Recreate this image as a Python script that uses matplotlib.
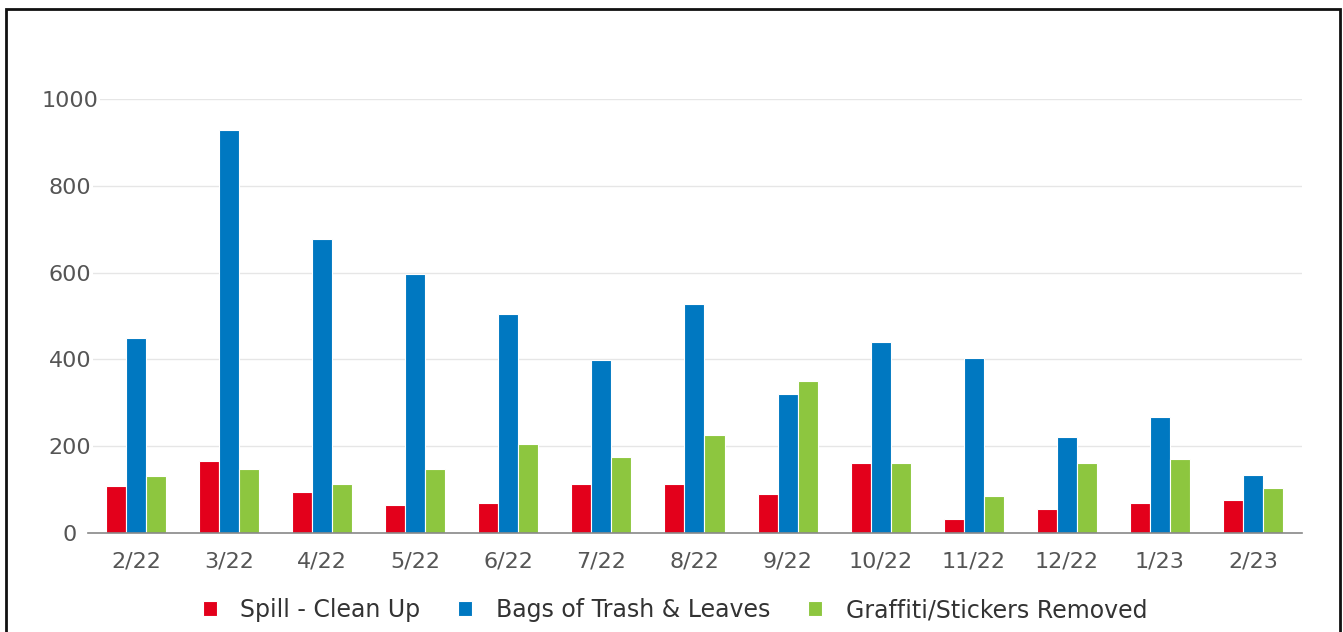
import matplotlib.pyplot as plt
import matplotlib.patches as patches
import numpy as np

months = ['2/22', '3/22', '4/22', '5/22', '6/22', '7/22', '8/22', '9/22',
          '10/22', '11/22', '12/22', '1/23', '2/23']
spill = [108, 166, 94, 65, 69, 113, 113, 90, 161, 32, 55, 69, 76]
trash = [449, 929, 677, 597, 505, 399, 528, 320, 440, 403, 221, 267, 134]
graffiti = [131, 147, 113, 147, 205, 175, 226, 350, 161, 85, 161, 170, 104]

series = [
    ('Spill - Clean Up', spill, '#e3001b'),
    ('Bags of Trash & Leaves', trash, '#0078c1'),
    ('Graffiti/Stickers Removed', graffiti, '#8dc63f'),
]

W, H = 1343, 632
fig = plt.figure(figsize=(W / 100, H / 100), dpi=100)
ax = fig.add_axes([88 / W, 1 - 533 / H, (1302 - 88) / W, (533 - 99) / H])

x = np.arange(len(months))
w = 0.215
for i, (name, vals, col) in enumerate(series):
    ax.bar(x + (i - 1) * w, vals, width=w, color=col, edgecolor='white',
           linewidth=0.8, label=name, zorder=3)

ax.set_xlim(-0.516, 12.527)
ax.set_ylim(0, 1000)
yt = [0, 200, 400, 600, 800, 1000]
ax.set_yticks(yt)
for v in yt[1:]:
    ax.axhline(v, color='#e6e6e6', linewidth=1, zorder=0)
ax.set_xticks(x)
ax.set_xticklabels(months)
ax.tick_params(axis='both', length=0, labelsize=16, colors='#555555')
ax.tick_params(axis='x', pad=13)
ax.tick_params(axis='y', pad=13)
# y labels are centred on a common line and mask the gridline behind them
for lab in ax.get_yticklabels():
    lab.set_horizontalalignment('center')
    lab.set_bbox(dict(facecolor='white', edgecolor='none', pad=1))
for s in ['top', 'right', 'left']:
    ax.spines[s].set_visible(False)
ax.spines['bottom'].set_color('#888888')
ax.spines['bottom'].set_linewidth(1.2)
ax.spines['bottom'].set_zorder(4)

fig.legend(loc='center', bbox_to_anchor=(675 / W, 1 - 610 / H), ncol=3, frameon=False,
           fontsize=17, handlelength=0.6, handleheight=0.6, columnspacing=1.6,
           handletextpad=1.0, labelcolor='#333333')

# outer frame (bottom edge cut off in the original)
frame = patches.Rectangle((6 / W, -0.05), 1334 / W, 1.05 - 9 / H,
                          transform=fig.transFigure, fill=False,
                          edgecolor='#111111', linewidth=2, clip_on=False)
fig.patches.append(frame)

fig.savefig('out.png', dpi=100)
